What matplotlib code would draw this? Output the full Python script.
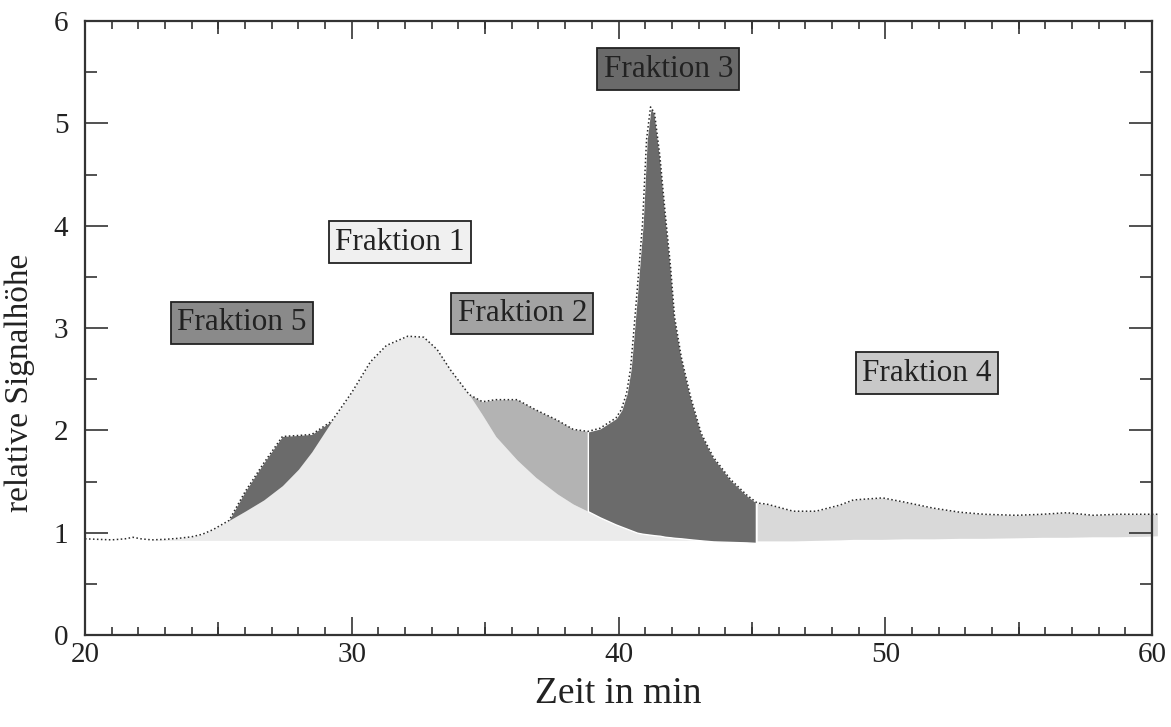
import numpy as np
import matplotlib
matplotlib.use("Agg")
from matplotlib import pyplot as plt
from matplotlib.ticker import MultipleLocator

plt.rcParams['font.family'] = ['Liberation Serif', 'DejaVu Serif']

# Zeit in min
zeit = np.array([20.0, 20.5, 21.0, 21.5, 21.8, 22.1, 22.5, 23.0, 23.5, 24.0, 24.4, 24.8,
                 25.4, 26.0, 26.7, 27.4, 28.0, 28.5, 29.25, 30.0, 30.7, 31.3, 32.1, 32.7,
                 33.2, 33.7, 34.4, 34.9, 35.4, 36.2, 36.9, 37.7, 38.3, 38.85, 39.3, 39.9,
                 40.1, 40.3, 40.45, 40.55, 40.7, 40.9, 41.05, 41.2, 41.35, 41.55, 41.75, 41.95,
                 42.1, 42.35, 42.7, 43.1, 43.55, 44.2, 44.8, 45.15, 45.2, 45.55, 46.55, 47.4,
                 48.3, 48.8, 49.9, 50.7, 51.8, 52.8, 53.7, 54.9, 55.9, 56.8, 57.8, 58.7,
                 59.8, 60.2])

# gesamtes Signal
signal = np.array([0.94, 0.935, 0.93, 0.94, 0.955, 0.94, 0.93, 0.935, 0.945, 0.96, 0.985, 1.03,
                   1.12, 1.40, 1.68, 1.94, 1.95, 1.96, 2.09, 2.37, 2.67, 2.83, 2.92, 2.91,
                   2.79, 2.59, 2.35, 2.28, 2.30, 2.30, 2.20, 2.10, 2.01, 1.99, 2.02, 2.12,
                   2.20, 2.36, 2.60, 2.90, 3.37, 4.02, 4.84, 5.16, 5.10, 4.68, 4.12, 3.60,
                   3.11, 2.72, 2.33, 1.97, 1.74, 1.52, 1.37, 1.30, 1.29, 1.28, 1.21, 1.21,
                   1.27, 1.32, 1.34, 1.30, 1.24, 1.20, 1.18, 1.17, 1.18, 1.195, 1.17, 1.18,
                   1.18, 1.18])

# Oberkante Fraktion 1 (Gauss-Peak)
frak1 = np.array([0.94, 0.935, 0.93, 0.94, 0.955, 0.94, 0.93, 0.935, 0.945, 0.96, 0.985, 1.03,
                  1.12, 1.21, 1.32, 1.46, 1.62, 1.79, 2.09, 2.37, 2.67, 2.83, 2.92, 2.91,
                  2.79, 2.59, 2.35, 2.15, 1.94, 1.71, 1.54, 1.38, 1.28, 1.21, 1.15, 1.08,
                  1.06, 1.04, 1.025, 1.015, 1.00, 0.99, 0.985, 0.98, 0.975, 0.97, 0.96, 0.955,
                  0.95, 0.945, 0.935, 0.925, 0.915, 0.91, 0.905, 0.90, 0.92, 0.92, 0.92, 0.925,
                  0.93, 0.935, 0.935, 0.94, 0.94, 0.945, 0.945, 0.95, 0.955, 0.955, 0.96, 0.96,
                  0.965, 0.97])

# Grundlinie
basis = np.array([0.925] * 56 +
                 [0.92, 0.92, 0.92, 0.925, 0.93, 0.935, 0.935, 0.94, 0.94, 0.945, 0.945, 0.95,
                  0.955, 0.955, 0.96, 0.96, 0.965, 0.97])

grenzen = [22.5, 25.4, 29.25, 34.4, 38.85, 45.15, 45.2]

farbe = {"1": "#ebebeb", "2": "#b3b3b3", "3": "#6b6b6b", "4": "#d9d9d9", "5": "#6b6b6b"}
box_farbe = {"1": "#f0f0f0", "2": "#a3a3a3", "3": "#6a6a6a", "4": "#c8c8c8", "5": "#8a8a8a"}
labels = ["Fraktion 1", "Fraktion 2", "Fraktion 3", "Fraktion 4", "Fraktion 5"]
label_x = [31.8, 36.4, 41.87, 51.56, 25.87]
label_y = [3.84, 3.14, 5.53, 2.56, 3.05]

fig = plt.figure(figsize=(11.71, 7.27), dpi=100)
ax = fig.add_axes([0.0726, 0.1265, 0.9112, 0.8446])

# Fraktion 1
ax.fill_between(zeit, basis, frak1, where=(zeit >= grenzen[0]) & (zeit <= grenzen[5]) & (frak1 >= basis),
                interpolate=True, color=farbe["1"], lw=0)
# Fraktion 5
ax.fill_between(zeit, frak1, signal, where=(zeit >= grenzen[1]) & (zeit <= grenzen[2]),
                color=farbe["5"], lw=0)
# Fraktion 2
ax.fill_between(zeit, frak1, signal, where=(zeit >= grenzen[3]) & (zeit <= grenzen[4]),
                color=farbe["2"], lw=0)
# Fraktion 3
ax.fill_between(zeit, frak1, signal, where=(zeit >= grenzen[4]) & (zeit <= grenzen[5]),
                facecolor=farbe["3"], edgecolor="white", lw=1.0)
# Fraktion 4
ax.fill_between(zeit, basis, signal, where=(zeit >= grenzen[6]),
                color=farbe["4"], lw=0, clip_on=False)

ax.plot(zeit, signal, color="#2a2a2a", lw=1.1, linestyle=(0, (1, 1.6)), clip_on=False)

for i in range(len(labels)):
    k = labels[i][-1]
    ax.text(label_x[i], label_y[i], labels[i], fontsize=22.5, ha="center", va="center",
            color="#222222",
            bbox=dict(boxstyle="square,pad=0.2", facecolor=box_farbe[k], edgecolor="#222222", lw=1.3))

ax.set_xlim(20, 60)
ax.set_ylim(0, 6)
ax.xaxis.set_major_locator(MultipleLocator(10))
ax.xaxis.set_minor_locator(MultipleLocator(1))
ax.yaxis.set_major_locator(MultipleLocator(1))
ax.yaxis.set_minor_locator(MultipleLocator(0.5))
ax.tick_params(which="both", direction="in", top=True, right=True, colors="#333333",
               labelcolor="#222222", labelsize=21, width=1.2)
ax.tick_params(axis="x", which="major", length=13, pad=5)
ax.tick_params(axis="x", which="minor", length=5.8)
ax.tick_params(axis="y", which="major", length=16.5, pad=12)
ax.tick_params(axis="y", which="minor", length=8.6)

# mittlere Striche bei 25, 35, ...
for pos in ["bottom", "top"]:
    sec = ax.secondary_xaxis(pos)
    sec.set_xticks([25, 35, 45, 55])
    sec.set_xticklabels([])
    sec.tick_params(direction="in", length=9.4, width=1.2, colors="#333333")
    sec.spines[pos].set_visible(False)

for sp in ax.spines.values():
    sp.set_color("#333333")
    sp.set_linewidth(1.6)

ax.set_xlabel("Zeit in min", fontsize=27, labelpad=6, color="#222222")
ax.set_ylabel("relative Signalhöhe", fontsize=24, color="#222222")
ax.yaxis.set_label_coords(-0.047, 0.41)

fig.savefig("out.png", dpi=100)
